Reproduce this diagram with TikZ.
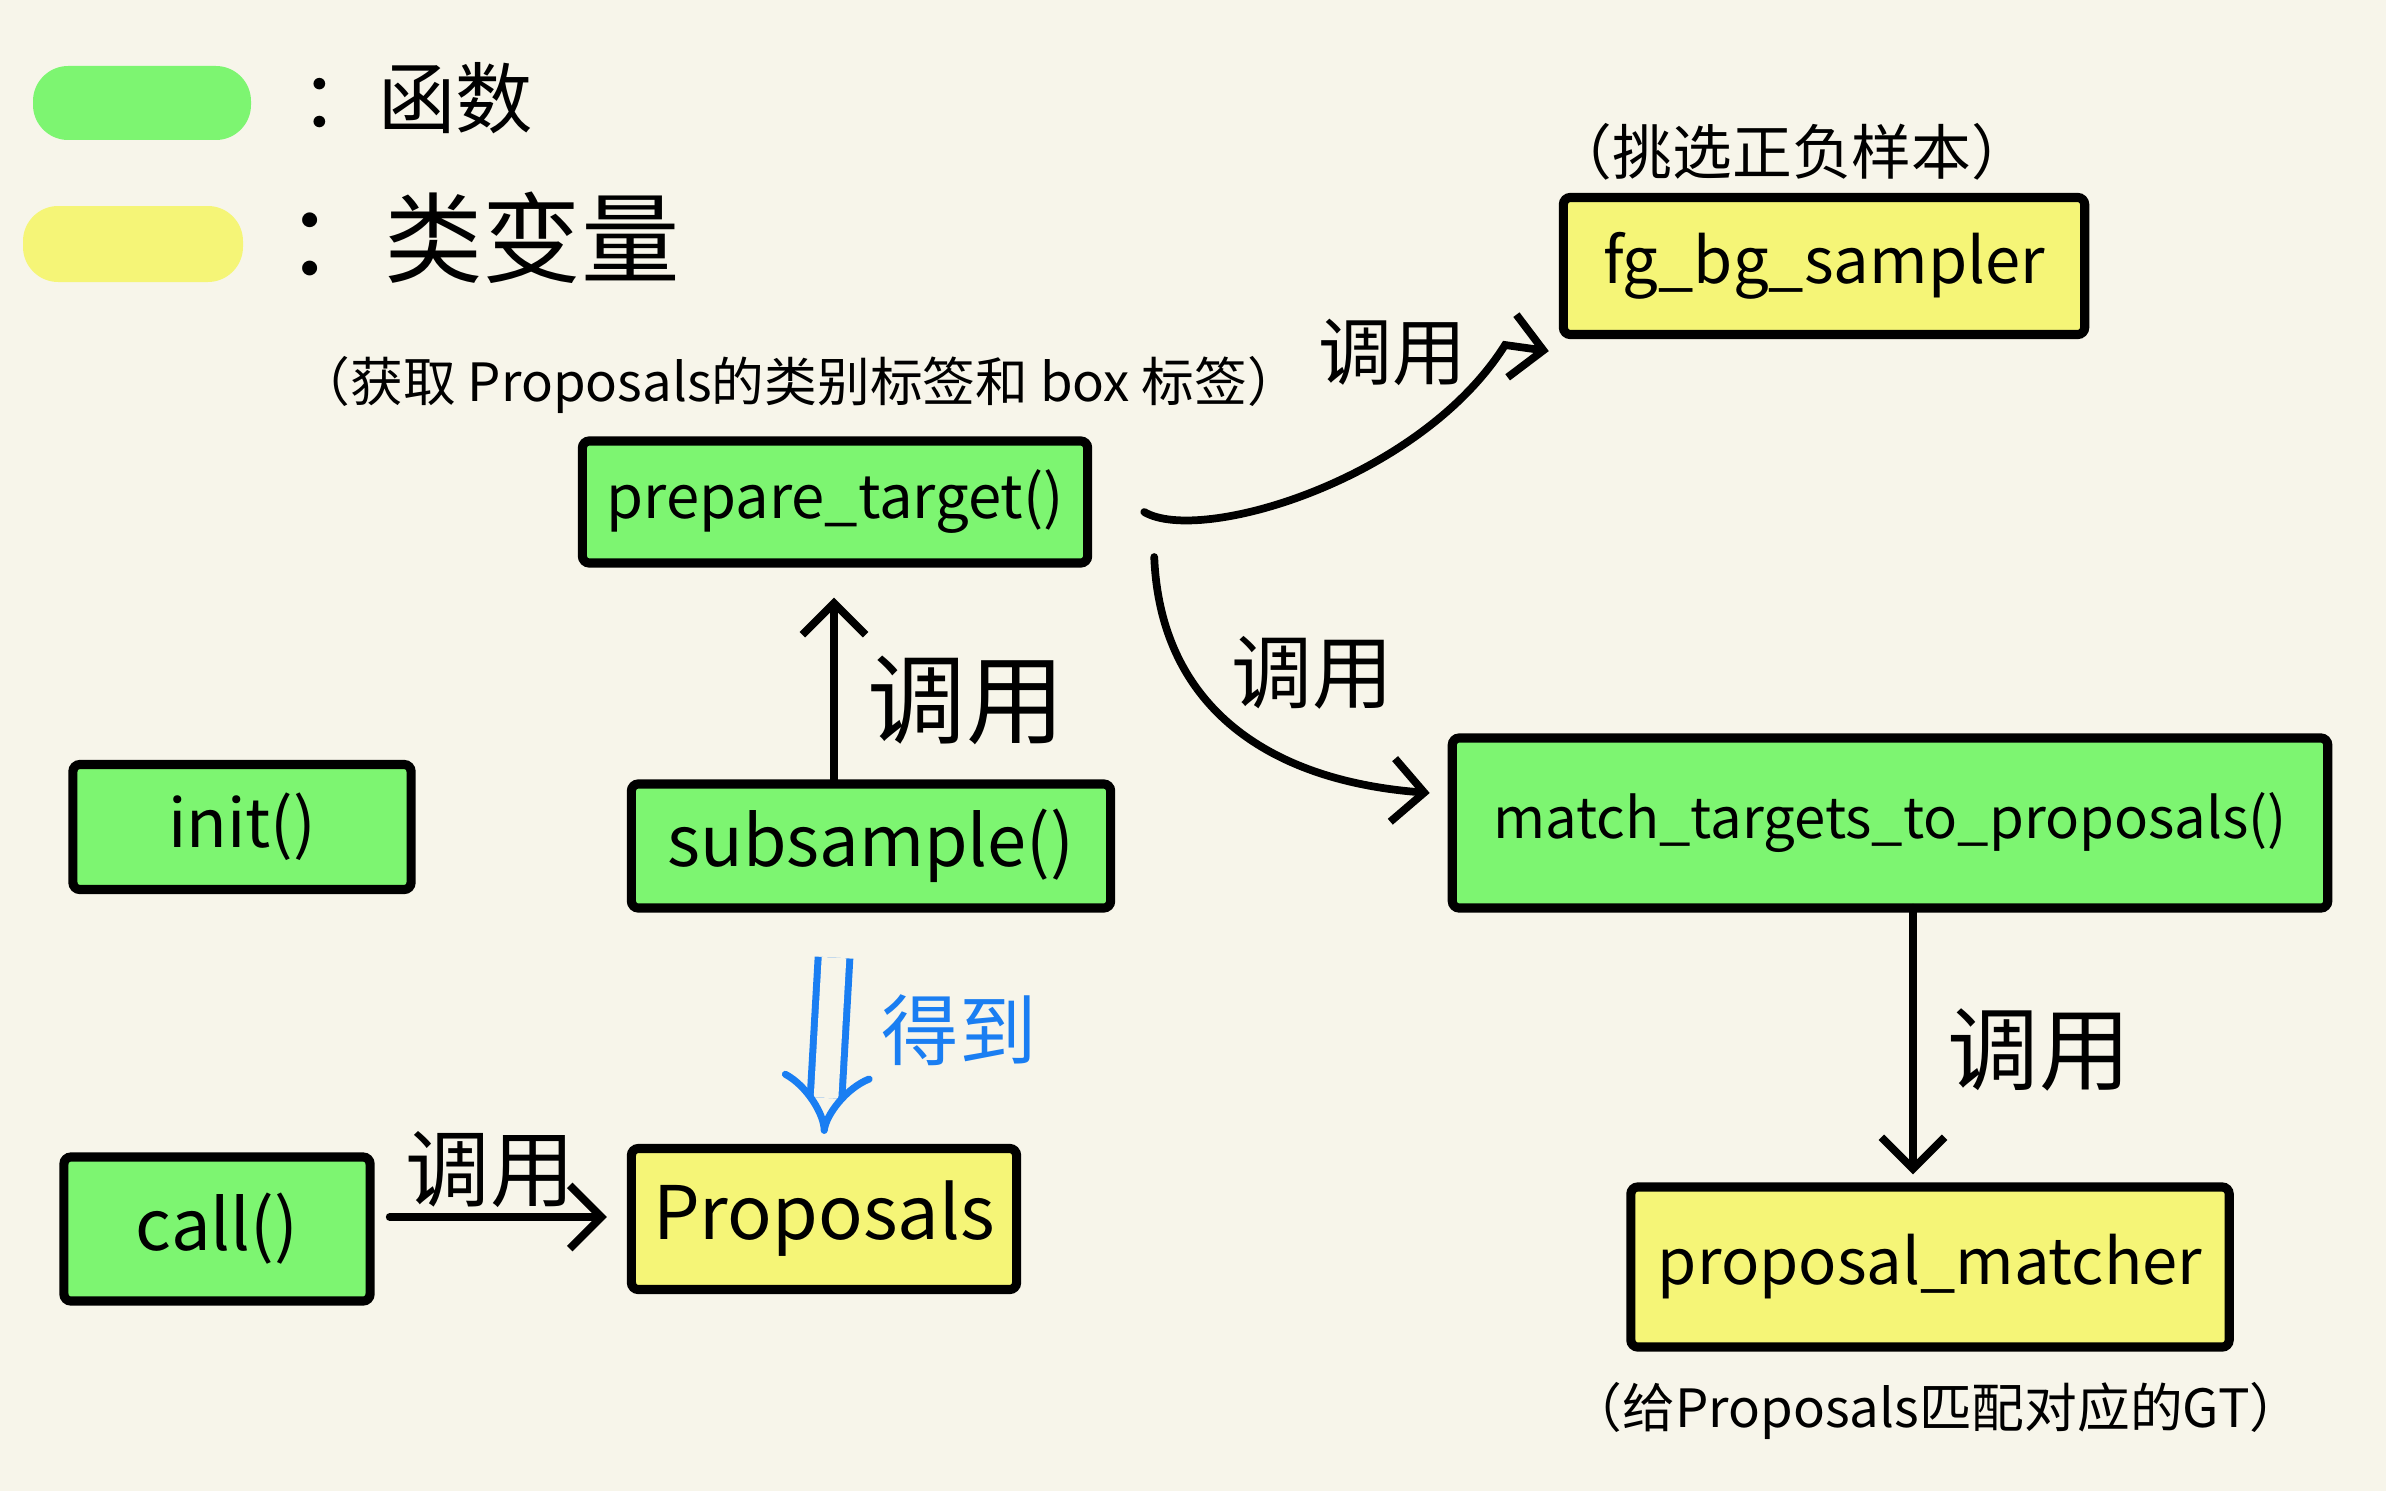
\documentclass[tikz,border=0pt]{standalone}
\usepackage{fontspec}
\setmainfont{Noto Sans CJK SC}
\usetikzlibrary{arrows.meta,calc}
\definecolor{bgc}{HTML}{F7F5EA}
\definecolor{fgreen}{HTML}{7DF571}
\definecolor{vyellow}{HTML}{F5F577}
\definecolor{inkblue}{HTML}{1A7EF2}
\begin{document}
\begin{tikzpicture}[x=0.01cm,y=-0.01cm,
  boxbase/.style={draw=black, line width=2.6pt, rounded corners=2pt, inner sep=0pt},
  fnbox/.style={boxbase, fill=fgreen},
  varbox/.style={boxbase, fill=vyellow},
  link/.style={draw=black, line width=2.2pt, line cap=round,
    -{Straight Barb[length=9pt,width=18pt]}},
  lbl/.style={inner sep=0pt, font=\fontsize{#1}{#1}\selectfont},
  note/.style={inner sep=0pt, font=\fontsize{#1}{#1}\selectfont}
]
\fill[bgc] (0,0) rectangle (2386,1491);
\useasboundingbox (0,0) rectangle (2386,1491);

% legend
\fill[fgreen, rounded corners=10pt] (33,66) rectangle (251,140);
\fill[vyellow, rounded corners=10pt] (23,206) rectangle (243,282);
\node[note=22, anchor=west] (leg1) at (300,98) {：函数};
\node[note=28, anchor=west] (leg2) at (285,238) {：类变量};

% annotations
\node[note=15] (n1) at (799,385) {（获取 Proposals的类别标签和 box 标签）};
\node[note=17] (n2) at (1792,152) {（挑选正负样本）};
\node[note=15] (n3) at (1936,1411) {（给Proposals匹配对应的GT）};

% boxes
\node[fnbox, minimum width=5.05cm, minimum height=1.22cm, font=\fontsize{17}{17}\selectfont] (prep) at (835,502) {prepare\_target()};
\node[varbox, minimum width=5.21cm, minimum height=1.37cm, font=\fontsize{18}{18}\selectfont] (fg) at (1824,266) {fg\_bg\_sampler};
\node[fnbox, minimum width=8.75cm, minimum height=1.70cm, font=\fontsize{16}{16}\selectfont] (match) at (1890,823) {match\_targets\_to\_proposals()};
\node[fnbox, minimum width=3.38cm, minimum height=1.25cm, font=\fontsize{19}{19}\selectfont] (init) at (242,827) {init()};
\node[fnbox, minimum width=4.79cm, minimum height=1.24cm, font=\fontsize{20}{20}\selectfont] (sub) at (871,846) {subsample()};
\node[varbox, minimum width=3.85cm, minimum height=1.41cm, font=\fontsize{21}{21}\selectfont] (prop) at (824,1219) {Proposals};
\node[fnbox, minimum width=3.06cm, minimum height=1.44cm, font=\fontsize{20}{20}\selectfont] (callf) at (217,1229) {call()};
\node[varbox, minimum width=5.98cm, minimum height=1.60cm, font=\fontsize{18}{18}\selectfont] (pm) at (1930,1267) {proposal\_matcher};

% connectors
\coordinate (a1) at ($(prep.east)+(52,10)$);
\coordinate (a1e) at ($(fg.south west)+(-10,12)$);
\draw[link] (a1) .. controls (1200,545) and (1420,480) .. (1505,345) -- (a1e);
\node[lbl=21] (l1) at (1392,352) {调用};

\coordinate (a2) at ($(prep.east)+(62,55)$);
\coordinate (a2e) at ($(match.west)+(-18,-30)$);
\draw[link] (a2) .. controls (1160,700) and (1260,780) .. (a2e);
\node[lbl=23] (l2) at (1312,673) {调用};

\draw[link] ($(sub.north)+(-37,0)$) -- ($(prep.south)+(-1,30)$);
\node[lbl=28] (l3) at (966,700) {调用};

\draw[draw=inkblue, double=bgc, double distance=7pt, line width=2pt, -{Implies}]
  ($(sub.south)+(-37,45)$) -- ($(prop.north)+(0,-10)$);
\node[lbl=22, text=inkblue] (l4) at (959,1030) {得到};

\draw[link] (callf.east) ++(15,-12) coordinate (a5) -- ($(prop.west)+(-20,-2)$);
\node[lbl=24] (l5) at (490,1170) {调用};

\draw[link] ($(match.south)+(23,-5)$) -- ($(pm.north)+(-17,-8)$);
\node[lbl=26] (l6) at (2039,1050) {调用};
\end{tikzpicture}
\end{document}
